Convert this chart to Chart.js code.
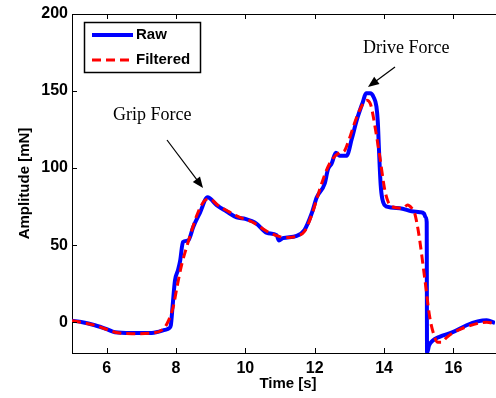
<!DOCTYPE html>
<html>
<head>
<meta charset="utf-8">
<script src="https://cdn.jsdelivr.net/npm/chart.js@4/dist/chart.umd.min.js"></script>
<style>
  html, body { margin: 0; padding: 0; background: #fff; overflow: hidden; }
  #wrap { width: 496px; height: 398px; }
</style>
</head>
<body>
<div id="wrap"><canvas id="forceChart" width="496" height="398"></canvas></div>
<script>
// --- DATA ---
const rawTime = [5.0, 5.3, 5.66, 6.0, 6.24, 6.7, 7.3, 7.68, 7.8, 7.85, 7.9, 7.97, 8.06, 8.12, 8.2, 8.35, 8.5, 8.69, 8.91,
  9.17, 9.45, 9.75, 10.0, 10.32, 10.62, 10.9, 10.97, 11.08, 11.48, 11.71, 11.92, 12.06, 12.29, 12.38, 12.49, 12.61,
  12.72, 12.92, 13.07, 13.21, 13.39, 13.48, 13.6, 13.7, 13.78, 13.82, 13.85, 13.9, 13.95, 14.08, 14.45, 14.8, 15.03,
  15.15, 15.2, 15.23, 15.24, 15.3, 15.4, 15.6, 15.98, 16.38, 16.7, 16.96, 17.2];
const rawAmp = [1, 0, -2, -4.5, -6.5, -7, -7, -5, -4, -2, 10, 27, 34, 40, 52, 53, 62, 71, 81,
  76, 72, 68, 67, 64, 58, 56.5, 53, 54.5, 56, 60, 71, 81, 90, 99, 103, 110,
  108, 108, 119, 131, 143, 148.5, 148.5, 146, 140, 130, 114, 90, 80, 75, 74, 72, 71.4,
  70.5, 68, 65, -20, -15, -12, -9.5, -6.5, -2, 0.5, 1.3, -0.5];

const filtTime = [5.0, 5.66, 6.24, 6.73, 7.34, 7.6, 7.74, 7.92, 8.03, 8.17, 8.31, 8.46, 8.63, 8.83, 8.98,
  9.2, 9.5, 9.84, 10.2, 10.62, 11.0, 11.25, 11.5, 11.71, 11.92, 12.06, 12.2, 12.43, 12.72, 12.85, 12.95,
  13.21, 13.4, 13.5, 13.6, 13.65, 13.79, 13.88, 14.02, 14.12, 14.22, 14.54, 14.68, 14.8, 14.88, 14.95,
  15.03, 15.17, 15.32, 15.45, 15.55, 15.65, 15.8, 15.98, 16.38, 16.96, 17.2];
const filtAmp = [1, -2, -6.5, -7.5, -7, -5, -1, 10, 23, 38, 49, 60, 71, 79, 80,
  76, 72, 68, 65, 59, 55.5, 55, 56, 59, 70, 80, 90, 103, 110, 111, 116,
  133, 142, 144, 142, 138, 120, 107, 86, 78, 75, 74, 76, 74, 71, 64,
  53, 29, 3, -9, -13, -13, -10, -7, -3, 0, -1];

const xTicks = [6, 8, 10, 12, 14, 16];
const yTicks = [0, 50, 100, 150, 200];
const seriesNames = ["Raw", "Filtered"];

const toPoints = (xs, ys) => xs.map((x, i) => ({ x: x, y: ys[i] }));

// --- frame, inward ticks, legend, labels, arrows ---
const decorPlugin = {
    id: "decor",
    afterDraw(chart) {
        const ctx = chart.ctx;
        const a = chart.chartArea;
        const xs = chart.scales.x;
        const ys = chart.scales.y;
        ctx.save();

        // top border
        ctx.strokeStyle = "#000";
        ctx.lineWidth = 1;
        ctx.beginPath();
        ctx.moveTo(a.left, a.top + 0.5);
        ctx.lineTo(a.right + 2, a.top + 0.5);
        ctx.stroke();

        // inward tick marks
        xTicks.forEach(v => {
            const px = Math.round(xs.getPixelForValue(v)) + 0.5;
            ctx.beginPath();
            ctx.moveTo(px, a.bottom); ctx.lineTo(px, a.bottom - 5);
            ctx.moveTo(px, a.top); ctx.lineTo(px, a.top + 5);
            ctx.stroke();
        });
        yTicks.forEach(v => {
            const py = Math.round(ys.getPixelForValue(v)) + 0.5;
            ctx.beginPath();
            ctx.moveTo(a.left, py); ctx.lineTo(a.left + 5, py);
            ctx.stroke();
        });

        // legend box
        ctx.fillStyle = "#fff";
        ctx.fillRect(84, 22, 117, 51);
        ctx.lineWidth = 1.5;
        ctx.strokeRect(84.5, 22.5, 116, 50);
        ctx.lineWidth = 4;
        ctx.strokeStyle = "#0000ff";
        ctx.beginPath(); ctx.moveTo(92, 35); ctx.lineTo(133, 35); ctx.stroke();
        ctx.strokeStyle = "#ff0000";
        ctx.lineWidth = 3;
        ctx.setLineDash([9, 5]);
        ctx.beginPath(); ctx.moveTo(92, 60); ctx.lineTo(133, 60); ctx.stroke();
        ctx.setLineDash([]);
        ctx.fillStyle = "#000";
        ctx.font = "bold 15px 'Liberation Sans', Arial, sans-serif";
        ctx.textAlign = "left";
        ctx.textBaseline = "middle";
        ctx.fillText(seriesNames[0], 136, 35);
        ctx.fillText(seriesNames[1], 136, 60);

        // axis titles
        ctx.textAlign = "center";
        ctx.fillText("Time [s]", 288, 384);
        ctx.save();
        ctx.translate(25, (a.top + a.bottom) / 2);
        ctx.rotate(-Math.PI / 2);
        ctx.fillText("Amplitude [mN]", 0, 0);
        ctx.restore();

        // annotations
        ctx.font = "18px 'Liberation Serif', 'Times New Roman', serif";
        ctx.textAlign = "left";
        ctx.textBaseline = "alphabetic";
        ctx.fillText("Grip Force", 113, 120);
        ctx.fillText("Drive Force", 363, 53);
        drawArrow(ctx, 167, 140, 203, 188);
        drawArrow(ctx, 395, 67, 368, 87);

        ctx.restore();
    }
};

function drawArrow(ctx, x1, y1, x2, y2) {
    const ang = Math.atan2(y2 - y1, x2 - x1);
    const len = 11, wid = 4.5;
    ctx.strokeStyle = "#000";
    ctx.lineWidth = 1.2;
    ctx.beginPath();
    ctx.moveTo(x1, y1);
    ctx.lineTo(x2 - Math.cos(ang) * len * 0.8, y2 - Math.sin(ang) * len * 0.8);
    ctx.stroke();
    ctx.beginPath();
    ctx.moveTo(x2, y2);
    ctx.lineTo(x2 - Math.cos(ang) * len - Math.sin(ang) * wid, y2 - Math.sin(ang) * len + Math.cos(ang) * wid);
    ctx.lineTo(x2 - Math.cos(ang) * len + Math.sin(ang) * wid, y2 - Math.sin(ang) * len - Math.cos(ang) * wid);
    ctx.closePath();
    ctx.fillStyle = "#000";
    ctx.fill();
}

const tickFont = { family: "'Liberation Sans', Arial, sans-serif", size: 16, weight: "bold" };

new Chart(document.getElementById("forceChart").getContext("2d"), {
    type: "line",
    data: {
        datasets: [
            {
                label: seriesNames[1],
                data: toPoints(filtTime, filtAmp),
                borderColor: "#ff0000",
                borderWidth: 3,
                borderDash: [9, 5],
                pointRadius: 0,
                cubicInterpolationMode: "monotone",
                fill: false,
                order: 0
            },
            {
                label: seriesNames[0],
                data: toPoints(rawTime, rawAmp),
                borderColor: "#0000ff",
                borderWidth: 4,
                pointRadius: 0,
                cubicInterpolationMode: "monotone",
                fill: false,
                order: 1
            }
        ]
    },
    options: {
        responsive: false,
        animation: false,
        layout: { padding: { top: 14, right: 1, left: 0, bottom: 0 } },
        plugins: { legend: { display: false }, tooltip: { enabled: false } },
        scales: {
            x: {
                type: "linear",
                min: 5,
                max: 17.2,
                grid: { display: false, drawTicks: false },
                border: { display: true, color: "#000", width: 1 },
                ticks: { color: "#000", font: tickFont, padding: 6, maxRotation: 0 },
                afterBuildTicks: s => { s.ticks = xTicks.map(v => ({ value: v })); },
                afterFit: s => { s.height = 45; }
            },
            y: {
                min: -20,
                max: 200,
                grid: { display: false, drawTicks: false },
                border: { display: true, color: "#000", width: 1 },
                ticks: { color: "#000", font: tickFont, padding: 4 },
                afterBuildTicks: s => { s.ticks = yTicks.map(v => ({ value: v })); },
                afterFit: s => { s.width = 72; }
            }
        }
    },
    plugins: [decorPlugin]
});
</script>
</body>
</html>
